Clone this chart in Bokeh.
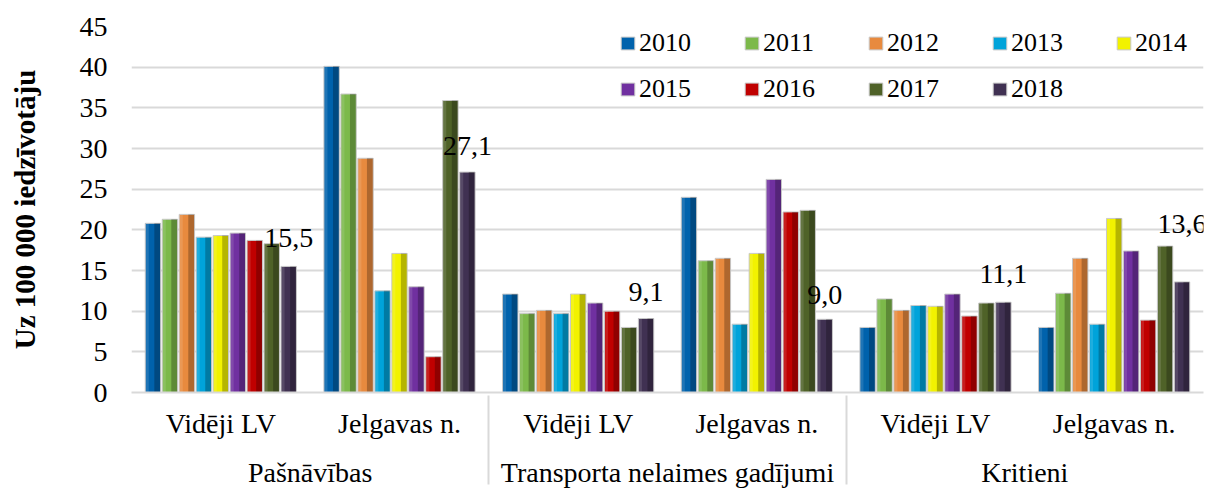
from bokeh.plotting import figure
from bokeh.models import FactorRange, ColumnDataSource, Legend, LegendItem
from bokeh.transform import dodge
from bokeh.core.properties import value
from bokeh.embed import file_html
from bokeh.resources import INLINE

categories = ["Pašnāvības", "Transporta nelaimes gadījumi", "Kritieni"]
subgroups = ["Vidēji LV", "Jelgavas n."]
years = ["2010", "2011", "2012", "2013", "2014", "2015", "2016", "2017", "2018"]

# order: Pašnāvības (LV, Jelg.), Transporta (LV, Jelg.), Kritieni (LV, Jelg.)
v2010 = [20.8, 40.1, 12.1, 24.0, 8.0, 8.0]
v2011 = [21.3, 36.7, 9.7, 16.2, 11.5, 12.2]
v2012 = [21.9, 28.8, 10.1, 16.5, 10.1, 16.5]
v2013 = [19.1, 12.5, 9.7, 8.4, 10.7, 8.4]
v2014 = [19.3, 17.1, 12.1, 17.1, 10.6, 21.4]
v2015 = [19.6, 13.0, 11.0, 26.2, 12.1, 17.4]
v2016 = [18.7, 4.4, 10.0, 22.2, 9.4, 8.9]
v2017 = [18.3, 35.9, 8.0, 22.4, 11.0, 18.0]
v2018 = [15.5, 27.1, 9.1, 9.0, 11.1, 13.6]
series = [v2010, v2011, v2012, v2013, v2014, v2015, v2016, v2017, v2018]

y_ticks = [0, 5, 10, 15, 20, 25, 30, 35, 40, 45]

# styling
colors = ["#0062AC", "#7CB94A", "#E88A3E", "#00A3DA", "#F2F200",
          "#7030A0", "#C00000", "#4F6228", "#403152"]
label_lift = [28, 26, 26, 24, 28, 58]
FONT = "Liberation Serif"
GRID = "#D9D9D9"

factors = [(c, s) for c in categories for s in subgroups]
data = {"x": factors}
for yr, vals in zip(years, series):
    data["y" + yr] = vals
data["lbl"] = [f"{v:.1f}".replace(".", ",") for v in v2018]
data["dy"] = [-d for d in label_lift]
src = ColumnDataSource(data)

p = figure(
    x_range=FactorRange(*factors, factor_padding=0, subgroup_padding=0,
                        group_padding=0, range_padding=0),
    y_range=(0, 45),
    width=1210, height=490,
    output_backend="svg", toolbar_location=None,
    min_border_left=131, min_border_right=7,
    min_border_top=26, min_border_bottom=96,
)

pitch = 0.095
bw = 0.086
items = []
for i, yr in enumerate(years):
    off = (i - 4) * pitch
    r = p.vbar(x=dodge("x", off, range=p.x_range), top="y" + yr, width=bw,
               source=src, fill_color=colors[i], line_color="#C8C8C8",
               line_width=1)
    p.vbar(x=dodge("x", off + bw * 0.28, range=p.x_range), top="y" + yr,
           width=bw * 0.38, source=src, fill_color="black", fill_alpha=0.25,
           line_color=None)
    p.vbar(x=dodge("x", off - bw * 0.36, range=p.x_range), top="y" + yr,
           width=bw * 0.18, source=src, fill_color="white", fill_alpha=0.12,
           line_color=None)
    items.append(LegendItem(label=yr, renderers=[r]))

p.text(x=dodge("x", 4 * pitch, range=p.x_range), y="y2018", text="lbl",
       y_offset="dy", source=src, text_align="center",
       text_baseline="alphabetic", text_font=value(FONT),
       text_font_size="28px", text_color="black")

for row_items, vy in ((items[:5], 332), (items[5:], 286)):
    leg = Legend(items=row_items, orientation="horizontal", location=(488, vy),
                 glyph_width=17, glyph_height=16, label_standoff=3,
                 label_width=104, label_height=34, spacing=0, padding=0,
                 margin=0, border_line_color=None, background_fill_alpha=0,
                 label_text_font=FONT, label_text_font_size="26px",
                 label_text_color="black")
    p.add_layout(leg)

p.outline_line_color = None
p.xgrid.grid_line_color = None
p.ygrid.grid_line_color = GRID
p.ygrid.grid_line_width = 2

yax = p.yaxis[0]
yax.ticker = y_ticks
yax.axis_line_color = None
yax.major_tick_line_color = None
yax.minor_tick_line_color = None
yax.major_tick_out = 0
yax.major_label_standoff = 24
yax.major_label_text_font = FONT
yax.major_label_text_font_size = "28px"
yax.major_label_text_color = "black"
yax.axis_label = "Uz 100 000 iedzīvotāju"
yax.axis_label_text_font = FONT
yax.axis_label_text_font_size = "29px"
yax.axis_label_text_font_style = "bold"
yax.axis_label_text_color = "black"
yax.axis_label_standoff = 36

xax = p.xaxis[0]
xax.axis_line_color = GRID
xax.axis_line_width = 2
xax.major_tick_line_color = None
xax.minor_tick_line_color = None
xax.major_tick_out = 0
xax.major_label_orientation = "horizontal"
xax.major_label_standoff = 15
xax.major_label_text_font = FONT
xax.major_label_text_font_size = "28px"
xax.major_label_text_color = "black"
xax.group_text_font = FONT
xax.group_text_font_size = "28px"
xax.group_text_font_style = "normal"
xax.group_text_color = "black"
xax.separator_line_color = GRID
xax.separator_line_width = 2

open("out.html", "w").write(file_html(p, INLINE))
